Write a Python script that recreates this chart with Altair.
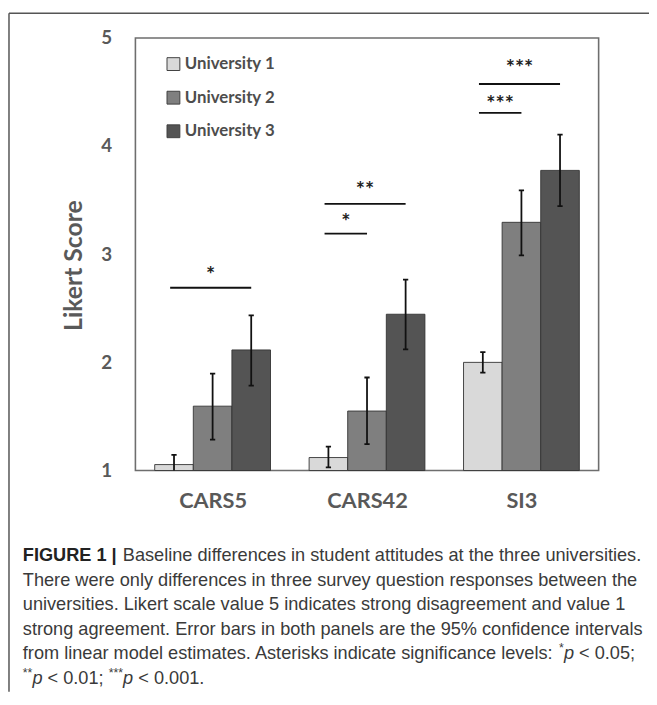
import json
import altair as alt
import pandas as pd

# ---------------- data ----------------
categories = ["CARS5", "CARS42", "SI3"]
universities = ["University 1", "University 2", "University 3"]
colors = ["#d9d9d9", "#7f7f7f", "#545454"]

mean_u1 = [1.055, 1.12, 2.00]
mean_u2 = [1.595, 1.55, 3.295]
mean_u3 = [2.115, 2.445, 3.775]

low_u1 = [0.97, 1.03, 1.905]
low_u2 = [1.285, 1.245, 2.99]
low_u3 = [1.785, 2.12, 3.445]

high_u1 = [1.145, 1.22, 2.095]
high_u2 = [1.895, 1.86, 3.59]
high_u3 = [2.435, 2.765, 4.105]

# significance brackets: category index, first bar, last bar, line level, label level, label
sig_category = [0, 1, 1, 2, 2]
sig_from = [0, 0, 0, 0, 0]
sig_to = [2, 2, 1, 2, 1]
sig_line_y = [2.69, 3.466, 3.19, 4.574, 4.306]
sig_label_y = [2.74, 3.53, 3.235, 4.655, 4.325]
sig_label = ["*", "**", "*", "***", "***"]

caption_bold = "FIGURE 1 |"
caption_lines = [
    "Baseline differences in student attitudes at the three universities.",
    "There were only differences in three survey question responses between the",
    "universities. Likert scale value 5 indicates strong disagreement and value 1",
    "strong agreement. Error bars in both panels are the 95% confidence intervals",
    "from linear model estimates. Asterisks indicate significance levels: ",
]
# last part of the caption as (text, style) runs: n = normal, s = superscript, i = italic
caption_runs_5 = [("*", "s"), ("p", "i"), (" < 0.05;", "n")]
caption_runs_6 = [("**", "s"), ("p", "i"), (" < 0.01; ", "n"), ("***", "s"), ("p", "i"),
                  (" < 0.001.", "n")]

# ---------------- text metrics (Arial / Liberation Sans advance widths) ----------------
_W = {" ": 278, "*": 389, "<": 584, ".": 278, ";": 278, ":": 278, ",": 278, "%": 889,
      "|": 280}
for ch in "0123456789":
    _W[ch] = 556
_W.update(dict(zip("ABCDEFGHIJKLMNOPQRSTUVWXYZ",
                   [667, 667, 722, 722, 667, 611, 778, 722, 278, 500, 667, 556, 833,
                    722, 778, 667, 778, 722, 667, 611, 722, 667, 944, 667, 667, 611])))
_W.update(dict(zip("abcdefghijklmnopqrstuvwxyz",
                   [556, 556, 500, 556, 556, 278, 556, 556, 222, 222, 500, 222, 833,
                    556, 556, 556, 556, 333, 500, 278, 556, 500, 722, 500, 500, 500])))


def text_width(s, size):
    return sum(_W.get(c, 556) for c in s) / 1000.0 * size


# ---------------- tables ----------------
BAR_STEP = 0.25   # group layout (in category units)
BAR_HALF = 0.125
CAP_HALF = 0.017

means = [mean_u1, mean_u2, mean_u3]
lows = [low_u1, low_u2, low_u3]
highs = [high_u1, high_u2, high_u3]

rows = []
for j, uni in enumerate(universities):
    for i, cat in enumerate(categories):
        c = i + (j - 1) * BAR_STEP
        rows.append({
            "category": cat, "university": uni,
            "xc": c, "x0": c - BAR_HALF, "x1": c + BAR_HALF,
            "c0": c - CAP_HALF, "c1": c + CAP_HALF,
            "mean": means[j][i], "low": lows[j][i], "high": highs[j][i],
        })
bars = pd.DataFrame(rows)

sig_rows = []
for k in range(len(sig_label)):
    i = sig_category[k]
    a = i + (sig_from[k] - 1) * BAR_STEP - 0.025
    b = i + (sig_to[k] - 1) * BAR_STEP
    sig_rows.append({"x0": a, "x1": b, "xm": (a + b) / 2,
                     "y": sig_line_y[k], "ly": sig_label_y[k], "label": sig_label[k]})
sig = pd.DataFrame(sig_rows)

# ---------------- scales ----------------
xscale = alt.Scale(domain=[-0.5, 2.5], nice=False, zero=False)
yscale = alt.Scale(domain=[1, 5], nice=False, zero=False)

label_expr = json.dumps(categories) + "[datum.value]"
x_axis = alt.Axis(values=[0, 1, 2], labelExpr=label_expr, ticks=False, domain=False,
                  grid=False, title=None, labelFont="Lato", labelFontSize=22,
                  labelFontWeight="bold", labelColor="#595959", labelPadding=20)
y_axis = alt.Axis(values=[1, 2, 3, 4, 5], format="d", ticks=False, domain=False,
                  grid=False, labelFont="Lato", labelFontSize=19, labelFontWeight="bold",
                  labelColor="#595959", labelPadding=24,
                  title="Likert Score", titleFont="Lato", titleFontSize=25,
                  titleFontWeight="bold", titleColor="#595959", titleAngle=270,
                  titleX=-55, titleY=230, titleAlign="center", titleBaseline="alphabetic")

base = alt.Chart(bars)

bar_layer = base.mark_bar(stroke="#333333", strokeWidth=0.9).encode(
    x=alt.X("x0:Q", scale=xscale, axis=x_axis),
    x2="x1:Q",
    y=alt.Y("mean:Q", scale=yscale, axis=y_axis),
    y2=alt.datum(1),
    color=alt.Color("university:N",
                    scale=alt.Scale(domain=universities, range=colors),
                    legend=alt.Legend(title=None, orient="none", legendX=30, legendY=18,
                                      symbolType="square", symbolSize=169,
                                      symbolStrokeColor="#404040", symbolStrokeWidth=1,
                                      labelFont="Lato", labelFontSize=17,
                                      labelFontWeight="bold", labelColor="#4d4d4d",
                                      rowPadding=16, labelOffset=3, padding=0)),
)

err_rule = base.mark_rule(color="#111111", strokeWidth=1.8, clip=True).encode(
    x="xc:Q", y="low:Q", y2="high:Q")
cap_hi = base.mark_rule(color="#111111", strokeWidth=1.8, clip=True).encode(
    x="c0:Q", x2="c1:Q", y="high:Q")
cap_lo = base.mark_rule(color="#111111", strokeWidth=1.8, clip=True).encode(
    x="c0:Q", x2="c1:Q", y="low:Q")

sig_base = alt.Chart(sig)
sig_lines = sig_base.mark_rule(color="#111111", strokeWidth=1.8).encode(
    x="x0:Q", x2="x1:Q", y="y:Q")
sig_text = sig_base.mark_text(font="Lato", fontSize=22, fontWeight="bold", color="#222222",
                              baseline="alphabetic", align="center").encode(
    x="xm:Q", y="ly:Q", text="label:N")

# ---------------- frame & caption (page decoration) ----------------
dummy = pd.DataFrame({"d": [0]})
frame_top = alt.Chart(dummy).mark_rule(color="#555555", strokeWidth=1.5).encode(
    x=alt.value(-128), x2=alt.value(520), y=alt.value(-25))
frame_left = alt.Chart(dummy).mark_rule(color="#555555", strokeWidth=1.5).encode(
    x=alt.value(-128), y=alt.value(-25), y2=alt.value(662))

CAP_FONT = "Liberation Sans"
CAP_SIZE = 18.4
SUP_SIZE = 12.5
cap_x = -114
cap_y0 = 524
cap_dy = 24.8


def text_layer(txt, x, y, size=CAP_SIZE, weight="normal", style="normal", color="#3a3a3a"):
    lead = len(txt) - len(txt.lstrip(" "))
    x = x + text_width(" " * lead, size)
    return alt.Chart(pd.DataFrame({"t": [txt.strip(" ")]})).mark_text(
        font=CAP_FONT, fontSize=size, fontWeight=weight, fontStyle=style, color=color,
        align="left", baseline="middle").encode(
        x=alt.value(x), y=alt.value(y), text="t:N")


cap_layers = [text_layer(caption_bold, cap_x, cap_y0, weight="bold", color="#222222")]
for k, line in enumerate(caption_lines):
    x = cap_x + text_width(caption_bold + " ", CAP_SIZE) + 1 if k == 0 else cap_x
    cap_layers.append(text_layer(line, x, cap_y0 + k * cap_dy))


def runs_layers(runs, x, y):
    out = []
    for txt, kind in runs:
        if kind == "s":
            out.append(text_layer(txt, x, y - 5, size=SUP_SIZE))
            x += text_width(txt, SUP_SIZE)
        elif kind == "i":
            out.append(text_layer(txt, x, y, style="italic"))
            x += text_width(txt, CAP_SIZE)
        else:
            out.append(text_layer(txt, x, y))
            x += text_width(txt, CAP_SIZE)
    return out


line5_end = cap_x + text_width(caption_lines[4], CAP_SIZE)
cap_layers += runs_layers(caption_runs_5, line5_end, cap_y0 + 4 * cap_dy)
cap_layers += runs_layers(caption_runs_6, cap_x, cap_y0 + 5 * cap_dy)

chart = alt.layer(
    bar_layer, err_rule, cap_hi, cap_lo, sig_lines, sig_text,
    frame_top, frame_left, *cap_layers
).properties(
    width=469, height=438,
    padding={"left": 129, "top": 26, "right": 51, "bottom": 224},
    autosize=alt.AutoSizeParams(type="none"),
    background="white",
).configure_view(
    stroke="#6e6e6e", strokeWidth=1.6
)

chart.save("out.html", embed_options={"renderer": "svg", "actions": False})
